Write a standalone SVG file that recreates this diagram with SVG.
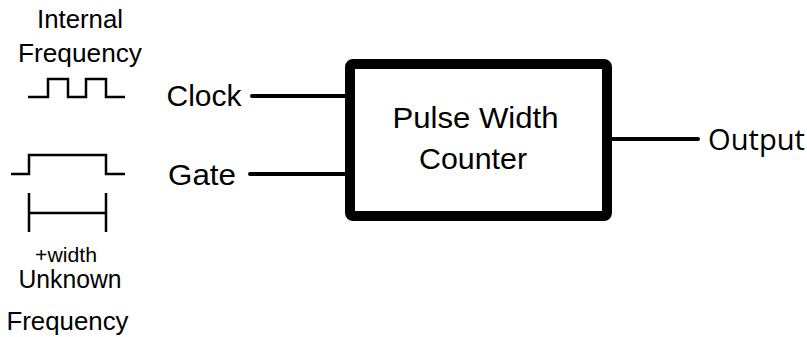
<svg xmlns="http://www.w3.org/2000/svg" width="807" height="337" viewBox="0 0 807 337">
  <style>
    .lbl { font-family: "Liberation Sans", Arial, sans-serif; fill: #000; }
    .out { font-family: "Open Sans", "Segoe UI", sans-serif; fill: #000; }
    .wave { fill: none; stroke: #000; stroke-width: 2.5; stroke-linejoin: miter; }
    .wire { fill: none; stroke: #000; stroke-width: 4; stroke-linecap: round; }
    .box { fill: #fff; stroke: #000; stroke-width: 10; }
  </style>
  <rect width="807" height="337" fill="#fff"/>

  <!-- internal clock source -->
  <g id="internal-frequency">
    <text class="lbl" x="80" y="28" font-size="25.5" text-anchor="middle" textLength="86" lengthAdjust="spacingAndGlyphs">Internal</text>
    <text class="lbl" x="80" y="62" font-size="25.5" text-anchor="middle" textLength="124" lengthAdjust="spacingAndGlyphs">Frequency</text>
    <path class="wave" d="M28,97 H48 V79 H68 V97 H86 V79 H106 V97 H125"/>
  </g>

  <!-- measured pulse -->
  <g id="unknown-frequency">
    <path class="wave" d="M11,174 H29 V155 H106 V174 H125"/>
    <path class="wave" d="M29,193 V232 M106,193 V232 M29,213 H106"/>
    <text class="lbl" x="66" y="262" font-size="20" text-anchor="middle" textLength="62" lengthAdjust="spacingAndGlyphs">+width</text>
    <text class="lbl" x="70" y="288" font-size="25.5" text-anchor="middle" textLength="103" lengthAdjust="spacingAndGlyphs">Unknown</text>
    <text class="lbl" x="67.5" y="330" font-size="25.5" text-anchor="middle" textLength="122" lengthAdjust="spacingAndGlyphs">Frequency</text>
  </g>

  <g id="clock-label">
    <text class="lbl" x="166.5" y="106" font-size="30" textLength="75" lengthAdjust="spacingAndGlyphs">Clock</text>
  </g>
  <g id="gate-label">
    <text class="lbl" x="168" y="185" font-size="30" textLength="68" lengthAdjust="spacingAndGlyphs">Gate</text>
  </g>

  <!-- connectors -->
  <g id="connectors">
    <line class="wire" x1="252" y1="96" x2="348" y2="96"/>
    <line class="wire" x1="250" y1="174" x2="348" y2="174"/>
    <line class="wire" x1="610" y1="139" x2="698" y2="139"/>
  </g>

  <g id="pulse-width-counter">
    <rect class="box" x="350" y="64" width="257" height="152" rx="3"/>
    <text class="lbl" x="475.5" y="128" font-size="30" text-anchor="middle" textLength="166" lengthAdjust="spacingAndGlyphs">Pulse Width</text>
    <text class="lbl" x="473" y="169" font-size="30" text-anchor="middle" textLength="108" lengthAdjust="spacingAndGlyphs">Counter</text>
  </g>

  <g id="output-label">
    <text class="out" x="708" y="150" font-size="28.5" textLength="97" lengthAdjust="spacingAndGlyphs">Output</text>
  </g>
</svg>
